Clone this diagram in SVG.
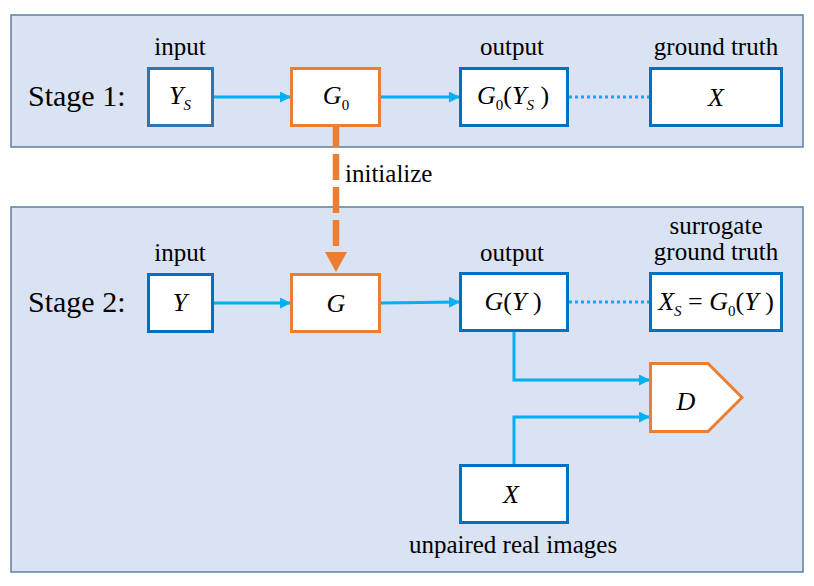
<svg xmlns="http://www.w3.org/2000/svg" width="814" height="586" viewBox="0 0 814 586">
<defs>
<style>
.panel{fill:#DAE3F3;stroke:#5A80A8;stroke-width:1.5}
.bbox{fill:#fff;stroke:#0070C0;stroke-width:3}
.obox{fill:#fff;stroke:#ED7D31;stroke-width:3}
text{font-family:'Liberation Serif','Times New Roman',Tinos,'Noto Serif','DejaVu Serif',FreeSerif,serif;fill:#000}
.lbl{font-size:25px;text-anchor:middle}
.stage{font-size:30px}
.math{font-size:26px;text-anchor:middle}
.it{font-style:italic}
.sub{font-size:15px}
.arr{fill:none;stroke:#00B0F0;stroke-width:3;marker-end:url(#ah)}
.dot{fill:none;stroke:#00B0F0;stroke-width:3;stroke-dasharray:3 3}
</style>
<marker id="ah" markerUnits="userSpaceOnUse" markerWidth="11" markerHeight="11" refX="10" refY="5.5" orient="auto">
<path d="M0,0 L11,5.5 L0,11 z" fill="#00B0F0"/>
</marker>
</defs>

<g id="stage1-panel">
<rect class="panel" x="11" y="15" width="792" height="132"/>
<text class="stage" x="28" y="106">Stage 1:</text>
</g>
<g id="stage2-panel">
<rect class="panel" x="11" y="207" width="792" height="365"/>
<text class="stage" x="28" y="312">Stage 2:</text>
</g>

<g id="connectors">
<line class="arr" x1="214" y1="97" x2="290" y2="97"/>
<line class="arr" x1="381" y1="97" x2="459" y2="97"/>
<line class="dot" x1="569" y1="97" x2="649" y2="97"/>
<line class="arr" x1="214" y1="303" x2="290" y2="303"/>
<line class="arr" x1="381" y1="303" x2="459" y2="302"/>
<line class="dot" x1="569" y1="302" x2="649" y2="302"/>
<path class="arr" d="M514,332 V380 H649"/>
<path class="arr" d="M514,464 V417 H649"/>
<line x1="336" y1="121" x2="336" y2="253" stroke="#ED7D31" stroke-width="6.5" stroke-dasharray="26 7"/>
<path d="M325,252 L347,252 L336,272 z" fill="#ED7D31"/>
<text class="lbl" x="345" y="182" style="text-anchor:start">initialize</text>
</g>

<g id="ys">
<text class="lbl" x="180" y="55">input</text>
<rect class="bbox" x="148.5" y="68.5" width="64" height="57" style="stroke:#2E75B6"/>
<text class="math" x="180" y="104"><tspan class="it">Y</tspan><tspan class="it sub" dy="6">S</tspan></text>
</g>
<g id="g0">
<rect class="obox" x="291.5" y="68.5" width="88" height="57"/>
<text class="math" x="336" y="104"><tspan class="it">G</tspan><tspan class="sub" dy="6">0</tspan></text>
</g>
<g id="g0ys">
<text class="lbl" x="512" y="55">output</text>
<rect class="bbox" x="460.5" y="68.5" width="107" height="57"/>
<text class="math" x="513" y="104"><tspan class="it">G</tspan><tspan class="sub" dy="6">0</tspan><tspan dy="-6">(</tspan><tspan class="it">Y</tspan><tspan class="it sub" dy="6">S</tspan><tspan dy="-6"> )</tspan></text>
</g>
<g id="x1">
<text class="lbl" x="716" y="55">ground truth</text>
<rect class="bbox" x="650.5" y="68.5" width="131" height="57"/>
<text class="math it" x="716" y="106">X</text>
</g>

<g id="y">
<text class="lbl" x="180" y="261">input</text>
<rect class="bbox" x="148.5" y="274.5" width="64" height="57"/>
<text class="math it" x="180" y="311">Y</text>
</g>
<g id="g">
<rect class="obox" x="291.5" y="274.5" width="88" height="57"/>
<text class="math it" x="336" y="312">G</text>
</g>
<g id="gy">
<text class="lbl" x="512" y="261">output</text>
<rect class="bbox" x="460.5" y="273.5" width="107" height="57"/>
<text class="math" x="513" y="310"><tspan class="it">G</tspan>(<tspan class="it">Y</tspan> )</text>
</g>
<g id="xs">
<text class="lbl" x="716" y="234">surrogate</text>
<text class="lbl" x="716" y="260">ground truth</text>
<rect class="bbox" x="650.5" y="273.5" width="131" height="57"/>
<text class="math" x="716" y="310"><tspan class="it">X</tspan><tspan class="it sub" dy="6">S</tspan><tspan dy="-6"> = </tspan><tspan class="it">G</tspan><tspan class="sub" dy="6">0</tspan><tspan dy="-6">(</tspan><tspan class="it">Y</tspan> )</text>
</g>
<g id="d">
<path d="M650.5,363.5 H708 L742,397.5 L708,431.5 H650.5 z" fill="#fff" stroke="#ED7D31" stroke-width="3"/>
<text class="math it" x="686" y="410">D</text>
</g>
<g id="x2">
<rect class="bbox" x="460.5" y="465.5" width="107" height="57"/>
<text class="math it" x="511" y="503">X</text>
<text class="lbl" x="513" y="553">unpaired real images</text>
</g>
</svg>
